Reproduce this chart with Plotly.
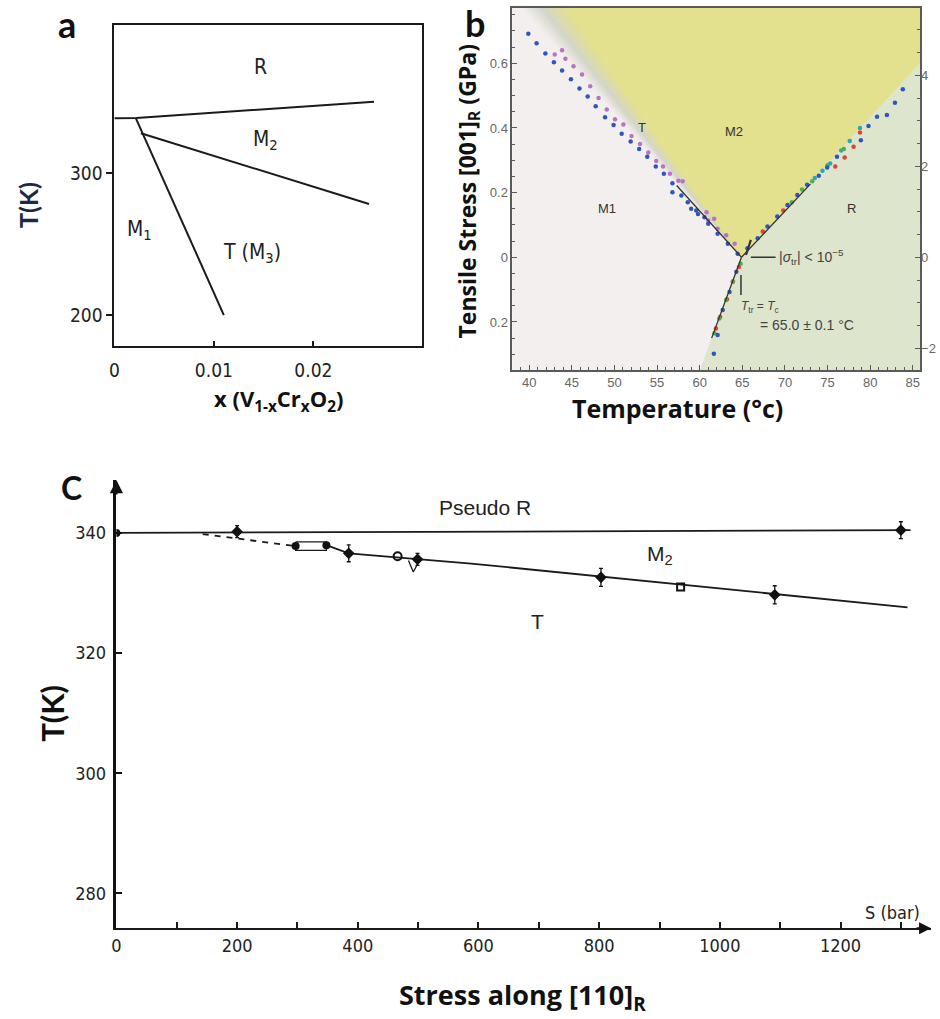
import plotly.graph_objects as go

W, H = 940, 1019

# ---------------- Panel a data: V1-xCrxO2 phase diagram ----------------
a_R_x = [0.0, 0.0022, 0.0261]
a_R_T = [338.5, 338.7, 350.2]
a_M1_x = [0.00216, 0.0110]
a_M1_T = [338.5, 200.0]
a_M2T_x = [0.00266, 0.0256]
a_M2T_T = [327.96, 278.2]
a_xticks = [0, 0.01, 0.02]
a_xticktext = ["0", "0.01", "0.02"]
a_yticks = [200, 300]
a_labels = ["R", "M<sub>2</sub>", "M<sub>1</sub>", "T (M<sub>3</sub>)"]
a_label_x = [0.0147, 0.0152, 0.0025, 0.0138]
a_label_T = [374.6, 323.2, 259.9, 243.7]

# ---------------- Panel b data: stress-temperature diagram ----------------
b_vertex = [64.9, 0.0]
b_green_x = [64.9, 85.85, 85.85, 60.06]
b_green_y = [0.0, 0.60, -0.3486, -0.3486]
b_yellow_x = [64.9, 44.43, 85.85, 85.85]
b_yellow_y = [0.0, 0.771, 0.771, 0.60]
b_wedge_top_x = [39.18, 44.43]
b_wedge_top_y = 0.771

blue_L_x = [39.9, 40.87, 41.9, 42.9, 43.86, 44.9, 45.9, 46.86, 47.8, 48.9, 49.9, 50.85,
            51.9, 52.9, 53.85, 54.85, 55.8, 56.8, 56.8, 57.85, 58.6, 59.0, 59.6, 59.8,
            60.56, 61.0, 62.1, 63.3, 64.45]
blue_L_y = [0.691, 0.662, 0.630, 0.603, 0.578, 0.551, 0.522, 0.497, 0.467, 0.433, 0.409, 0.382,
            0.358, 0.335, 0.311, 0.281, 0.258, 0.229, 0.201, 0.191, 0.170, 0.150, 0.145, 0.134,
            0.124, 0.104, 0.073, 0.042, 0.011]
purple_L_x = [43.0, 43.86, 44.25, 45.2, 46.2, 47.16, 48.14, 49.1, 50.07, 51.05, 52.0, 53.0,
              53.97, 54.9, 55.7, 56.5, 57.5, 58.0, 60.8, 61.0, 61.7, 62.1, 63.1, 64.1]
purple_L_y = [0.627, 0.640, 0.614, 0.591, 0.565, 0.529, 0.493, 0.457, 0.427, 0.411, 0.375, 0.350,
              0.324, 0.298, 0.281, 0.258, 0.237, 0.235, 0.139, 0.114, 0.119, 0.088, 0.068, 0.042]
blue_R_x = [65.6, 66.8, 67.95, 69.1, 70.3, 71.45, 72.6, 73.97, 74.95, 76.1, 78.9, 79.8,
            80.8, 81.95, 82.9, 83.82]
blue_R_y = [0.028, 0.059, 0.095, 0.126, 0.162, 0.193, 0.224, 0.252, 0.278, 0.311, 0.362, 0.406,
            0.435, 0.44, 0.478, 0.52]
teal_R_x = [73.5, 74.4, 75.3, 76.6, 77.6, 78.8]
teal_R_y = [0.245, 0.268, 0.29, 0.33, 0.36, 0.40]
green_R_x = [70.8, 72.0, 73.2, 75.0, 76.9]
green_R_y = [0.17, 0.21, 0.235, 0.285, 0.335]
red_R_x = [67.4, 69.8, 75.9, 77.0, 78.05, 78.8]
red_R_y = [0.08, 0.145, 0.281, 0.309, 0.342, 0.386]
red_low_x = [64.6, 63.9, 63.2, 62.4, 61.9]
red_low_y = [-0.03, -0.075, -0.13, -0.185, -0.22]
blue_low_x = [64.3, 63.5, 62.7, 62.1, 61.66]
blue_low_y = [-0.045, -0.107, -0.163, -0.24, -0.298]
green_low_x = [64.8, 63.87, 63.1, 62.3, 61.73]
green_low_y = [-0.02, -0.076, -0.132, -0.189, -0.235]
fitL_x = [57.3, 64.9]
fitL_y = [0.222, 0.0]
fitR_x = [64.9, 73.0]
fitR_y = [0.0, 0.227]
fitLow_x = [64.9, 61.4]
fitLow_y = [0.0, -0.25]
mark_slant_x = [65.43, 66.0]
mark_slant_y = [0.007, 0.054]
mark_dash_x = [66.0, 68.9]
mark_dash_y = [0.0, 0.0]
mark_vbar_x = [64.84, 64.84]
mark_vbar_y = [-0.055, -0.117]
b_yticks = [-0.2, 0, 0.2, 0.4, 0.6]
b_yticktext = ["0.2", "0", "0.2", "0.4", "0.6"]
b_y3ticks = [-2, 0, 2, 4]
b_labels = ["T", "M2", "M1", "R"]
b_label_x = [53.2, 64.0, 49.1, 77.85]
b_label_y = [0.40, 0.39, 0.15, 0.15]

# ---------------- Panel c data: stress along [110]R ----------------
c_upper_S = [0, 1316]
c_upper_T = [340.0, 340.45]
c_dash_S = [143, 297]
c_dash_T = [339.8, 337.8]
c_lower_S = [348, 385, 588, 1311]
c_lower_T = [337.95, 336.6, 334.9, 327.6]
c_rect_S = [297, 348, 348, 297, 297]
c_rect_T = [338.5, 338.5, 337.1, 337.1, 338.5]
c_diam_S = [200, 385, 499, 803, 1091, 1300]
c_diam_T = [340.2, 336.6, 335.6, 332.6, 329.7, 340.45]
c_diam_err = [1.0, 1.4, 1.0, 1.5, 1.5, 1.4]
c_fill_S = [0, 297, 348]
c_fill_T = [340.0, 337.8, 337.95]
c_ocirc_S = [466]
c_ocirc_T = [336.1]
c_osq_S = [935]
c_osq_T = [331.0]
c_v_S = [484, 492, 500]
c_v_T = [335.4, 333.5, 335.0]
c_labels = ["Pseudo R", "M<sub>2</sub>", "T", "M<sub>1</sub>", "R"]
c_label_S = [610, 900, 698, -71, -2]
c_label_T = [344.3, 336.3, 325.2, 327.9, 344.1]

COND = "DejaVu Sans Condensed, Liberation Sans Narrow, sans-serif"
HELV = "Liberation Sans, Arial, sans-serif"
BOLD = "Lato, Liberation Sans, sans-serif"
OPEN = "Open Sans, Liberation Sans, sans-serif"

fig = go.Figure()

# ---- panel a ----
for xs, ys in [(a_R_x, a_R_T), (a_M1_x, a_M1_T), (a_M2T_x, a_M2T_T)]:
    fig.add_trace(go.Scatter(x=xs, y=ys, mode="lines", line=dict(color="#1a1a1a", width=2),
                             xaxis="x", yaxis="y", showlegend=False, hoverinfo="skip"))

# ---- panel b ----
def lerp(c1, c2, t):
    return tuple(int(round(c1[i] + (c2[i] - c1[i]) * t)) for i in range(3))

stops = [(0.0, (243, 239, 238)), (0.45, (211, 214, 201)), (1.0, (227, 224, 142))]
def grad(t):
    for (t0, c0), (t1, c1) in zip(stops[:-1], stops[1:]):
        if t <= t1:
            return lerp(c0, c1, (t - t0) / (t1 - t0))
    return stops[-1][1]

fig.add_trace(go.Scatter(x=b_yellow_x + [b_yellow_x[0]], y=b_yellow_y + [b_yellow_y[0]],
                         mode="lines", fill="toself", fillcolor="#e3e08e",
                         line=dict(width=0.5, color="#e3e08e"), xaxis="x2", yaxis="y2",
                         showlegend=False, hoverinfo="skip"))
fig.add_trace(go.Scatter(x=b_green_x + [b_green_x[0]], y=b_green_y + [b_green_y[0]],
                         mode="lines", fill="toself", fillcolor="#dde5cd",
                         line=dict(width=0.5, color="#dde5cd"), xaxis="x2", yaxis="y2",
                         showlegend=False, hoverinfo="skip"))
N = 16
xa, xb = b_wedge_top_x
for i in range(N):
    x0 = xa + (xb - xa) * i / N
    x1 = xa + (xb - xa) * (i + 1) / N
    col = "rgb(%d,%d,%d)" % grad((i + 0.5) / N)
    fig.add_trace(go.Scatter(x=[b_vertex[0], x0, x1, b_vertex[0]],
                             y=[b_vertex[1], b_wedge_top_y, b_wedge_top_y, b_vertex[1]],
                             mode="lines", fill="toself", fillcolor=col,
                             line=dict(width=0.8, color=col), xaxis="x2", yaxis="y2",
                             showlegend=False, hoverinfo="skip"))

dot_sets = [
    (purple_L_x, purple_L_y, "#b774c6"),
    (blue_L_x, blue_L_y, "#2f56c0"),
    (teal_R_x, teal_R_y, "#2aa9b5"),
    (green_R_x, green_R_y, "#4caf50"),
    (red_R_x, red_R_y, "#e2432f"),
    (blue_R_x, blue_R_y, "#2f56c0"),
    (red_low_x, red_low_y, "#e2432f"),
    (green_low_x, green_low_y, "#4caf50"),
    (blue_low_x, blue_low_y, "#2f56c0"),
]
for xs, ys, c in dot_sets:
    fig.add_trace(go.Scatter(x=xs, y=ys, mode="markers", marker=dict(size=4.5, color=c),
                             xaxis="x2", yaxis="y2", showlegend=False, hoverinfo="skip"))
for xs, ys, w in [(fitL_x, fitL_y, 1.3), (fitR_x, fitR_y, 1.3), (fitLow_x, fitLow_y, 1.3),
                  (mark_slant_x, mark_slant_y, 2.2), (mark_dash_x, mark_dash_y, 1.5),
                  (mark_vbar_x, mark_vbar_y, 1.5)]:
    fig.add_trace(go.Scatter(x=xs, y=ys, mode="lines", line=dict(color="#333333", width=w),
                             xaxis="x2", yaxis="y2", showlegend=False, hoverinfo="skip"))
# invisible trace to activate right axis
fig.add_trace(go.Scatter(x=[60], y=[0], mode="markers", marker=dict(size=0.1, opacity=0),
                         xaxis="x2", yaxis="y3", showlegend=False, hoverinfo="skip"))

# ---- panel c ----
fig.add_trace(go.Scatter(x=c_upper_S, y=c_upper_T, mode="lines", line=dict(color="#1a1a1a", width=1.8),
                         xaxis="x4", yaxis="y4", showlegend=False, hoverinfo="skip"))
fig.add_trace(go.Scatter(x=c_dash_S, y=c_dash_T, mode="lines",
                         line=dict(color="#1a1a1a", width=1.8, dash="6px,6px"),
                         xaxis="x4", yaxis="y4", showlegend=False, hoverinfo="skip"))
fig.add_trace(go.Scatter(x=c_lower_S, y=c_lower_T, mode="lines", line=dict(color="#1a1a1a", width=1.8),
                         xaxis="x4", yaxis="y4", showlegend=False, hoverinfo="skip"))
fig.add_trace(go.Scatter(x=c_rect_S, y=c_rect_T, mode="lines", line=dict(color="#1a1a1a", width=1.3),
                         xaxis="x4", yaxis="y4", showlegend=False, hoverinfo="skip"))
fig.add_trace(go.Scatter(x=c_v_S, y=c_v_T, mode="lines", line=dict(color="#1a1a1a", width=1.3),
                         xaxis="x4", yaxis="y4", showlegend=False, hoverinfo="skip"))
fig.add_trace(go.Scatter(x=c_diam_S, y=c_diam_T, mode="markers",
                         marker=dict(symbol="diamond", size=9, color="#111"),
                         error_y=dict(type="data", array=c_diam_err, color="#111", thickness=1.3, width=2),
                         xaxis="x4", yaxis="y4", showlegend=False, hoverinfo="skip"))
fig.add_trace(go.Scatter(x=c_fill_S, y=c_fill_T, mode="markers",
                         marker=dict(symbol="circle", size=8, color="#111"),
                         xaxis="x4", yaxis="y4", showlegend=False, hoverinfo="skip"))
fig.add_trace(go.Scatter(x=c_ocirc_S, y=c_ocirc_T, mode="markers",
                         marker=dict(symbol="circle-open", size=8, color="#111", line=dict(width=2)),
                         xaxis="x4", yaxis="y4", showlegend=False, hoverinfo="skip"))
fig.add_trace(go.Scatter(x=c_osq_S, y=c_osq_T, mode="markers",
                         marker=dict(symbol="square-open", size=7, color="#111", line=dict(width=2)),
                         xaxis="x4", yaxis="y4", showlegend=False, hoverinfo="skip"))

ann = []
def paper_ann(text, x, y, size, angle=0, color="#111", family=BOLD, bold=True):
    t = "<b>%s</b>" % text if bold else text
    ann.append(dict(text=t, x=x / W, y=1 - y / H, xref="paper", yref="paper", showarrow=False,
                    textangle=angle, font=dict(size=size, color=color, family=family),
                    xanchor="center", yanchor="middle"))

paper_ann("a", 62, 24, 36)
paper_ann("b", 473, 23, 36)
paper_ann("C", 67, 487, 32)
paper_ann("T(K)", 23, 205, 25, angle=-90, color="#1c2944")
paper_ann("x (V<sub>1-x</sub>Cr<sub>x</sub>O<sub>2</sub>)", 275, 400, 22, family=OPEN)
paper_ann("Tensile Stress [001]<sub>R</sub> (GPa)", 466, 192, 23, angle=-90, family=OPEN)
paper_ann("Temperature (°c)", 676, 408, 25, family=OPEN)
paper_ann("T(K)", 47, 713, 31, angle=-90)
paper_ann("Stress along [110]<sub>R</sub>", 520, 996, 27, family=OPEN)

for t, x, y in zip(a_labels, a_label_x, a_label_T):
    ann.append(dict(text=t, x=x, y=y, xref="x", yref="y", showarrow=False,
                    font=dict(size=21, color="#222", family=COND)))
for t, x, y in zip(b_labels, b_label_x, b_label_y):
    ann.append(dict(text=t, x=x, y=y, xref="x2", yref="y2", showarrow=False,
                    font=dict(size=13, color="#333", family=HELV)))
ann.append(dict(text="|<i>σ</i><sub>tr</sub>| < 10<sup>−5</sup>", x=69.1, y=0.0, xref="x2", yref="y2",
                showarrow=False, xanchor="left", font=dict(size=14, color="#444", family=HELV)))
ann.append(dict(text="<i>T</i><sub>tr</sub> = <i>T</i><sub>c</sub>", x=64.6, y=-0.153, xref="x2", yref="y2",
                showarrow=False, xanchor="left", font=dict(size=12, color="#444", family=HELV)))
ann.append(dict(text="= 65.0 ± 0.1 °C", x=66.8, y=-0.209, xref="x2", yref="y2",
                showarrow=False, xanchor="left", font=dict(size=14, color="#444", family=HELV)))
for t, x, y in zip(c_labels, c_label_S, c_label_T):
    ann.append(dict(text=t, x=x, y=y, xref="x4", yref="y4", showarrow=False,
                    font=dict(size=21, color="#222", family=HELV)))
ann.append(dict(text="S (bar)", x=1286, y=276.9, xref="x4", yref="y4", showarrow=False,
                font=dict(size=18, color="#222", family=COND)))
# axis arrows of panel c
ann.append(dict(text="", x=1350, y=274.2, xref="x4", yref="y4", ax=-16, ay=0, showarrow=True,
                arrowhead=2, arrowsize=1.2, arrowwidth=2, arrowcolor="#111"))
ann.append(dict(text="", x=0, y=348.8, xref="x4", yref="y4", ax=0, ay=16, showarrow=True,
                arrowhead=2, arrowsize=1.2, arrowwidth=2.2, arrowcolor="#111"))

gray = "#5a5a5a"
fig.update_layout(
    width=W, height=H, margin=dict(l=0, r=0, t=0, b=0),
    paper_bgcolor="white", plot_bgcolor="white", showlegend=False,
    annotations=ann,
    shapes=[dict(type="rect", xref="x2 domain", yref="y2 domain", x0=0, x1=1, y0=0, y1=1,
                 fillcolor="#f3efee", line=dict(width=0), layer="below")],
    xaxis=dict(domain=[110 / W, 419 / W], range=[0, 0.0309], anchor="y", showline=True, mirror=True,
               linecolor="#1a1a1a", linewidth=2, showgrid=False, zeroline=False,
               tickmode="array", tickvals=a_xticks, ticktext=a_xticktext, ticks="inside", ticklen=5,
               tickwidth=2, tickcolor="#1a1a1a", ticklabelstandoff=6,
               tickfont=dict(size=19, family=COND, color="#222")),
    yaxis=dict(domain=[1 - 346 / H, 1 - 25 / H], range=[178.2, 404.2], anchor="x", showline=True,
               mirror=True, linecolor="#1a1a1a", linewidth=2, showgrid=False, zeroline=False,
               tickmode="array", tickvals=a_yticks, ticks="outside", ticklen=6, tickwidth=2,
               tickcolor="#1a1a1a", tickfont=dict(size=19, family=COND, color="#222")),
    xaxis2=dict(domain=[510 / W, 920 / W], range=[38.02, 85.85], anchor="y2", showline=True, mirror=True,
                linecolor=gray, linewidth=1.5, showgrid=False, zeroline=False, dtick=5, tick0=0,
                ticks="inside", ticklen=5, tickcolor=gray,
                minor=dict(dtick=1, ticks="inside", ticklen=3, tickcolor=gray),
                tickfont=dict(size=13, family=HELV, color="#666")),
    yaxis2=dict(domain=[1 - 370 / H, 1 - 8 / H], range=[-0.3486, 0.771], anchor="x2", showline=True,
                mirror=True, linecolor=gray, linewidth=1.5, showgrid=False, zeroline=False,
                tickmode="array", tickvals=b_yticks, ticktext=b_yticktext, ticks="inside", ticklen=5,
                tickcolor=gray, minor=dict(dtick=0.05, tick0=0, ticks="inside", ticklen=3, tickcolor=gray),
                tickfont=dict(size=13, family=HELV, color="#666")),
    yaxis3=dict(range=[-2.477, 5.48], overlaying="y2", anchor="x2", side="right", showline=False,
                showgrid=False, zeroline=False, tickmode="array", tickvals=b_y3ticks, ticks="inside",
                ticklen=5, tickcolor=gray, minor=dict(dtick=0.5, tick0=0, ticks="inside", ticklen=3,
                                                      tickcolor=gray),
                tickfont=dict(size=13, family=HELV, color="#666")),
    xaxis4=dict(domain=[112 / W, 931 / W], range=[0, 1350], anchor="y4", showline=True, mirror=False,
                linecolor="#1a1a1a", linewidth=2, showgrid=False, zeroline=False, dtick=200, tick0=0,
                ticks="inside", ticklen=6, tickwidth=1.5, tickcolor="#1a1a1a",
                minor=dict(dtick=100, tick0=0, ticks="inside", ticklen=6, tickwidth=1.5, tickcolor="#1a1a1a"),
                tickfont=dict(size=18, family=COND, color="#222")),
    yaxis4=dict(domain=[1 - 928.3 / H, 1 - 480 / H], range=[274.2, 348.8], anchor="x4", showline=True,
                linecolor="#111", linewidth=2.5, showgrid=False, zeroline=False, tickmode="array",
                tickvals=[280, 300, 320, 340], ticks="inside", ticklen=6, tickwidth=1.5,
                tickcolor="#111", ticklabelstandoff=4,
                tickfont=dict(size=18, family=COND, color="#222")),
)

fig.write_html("out.html")
